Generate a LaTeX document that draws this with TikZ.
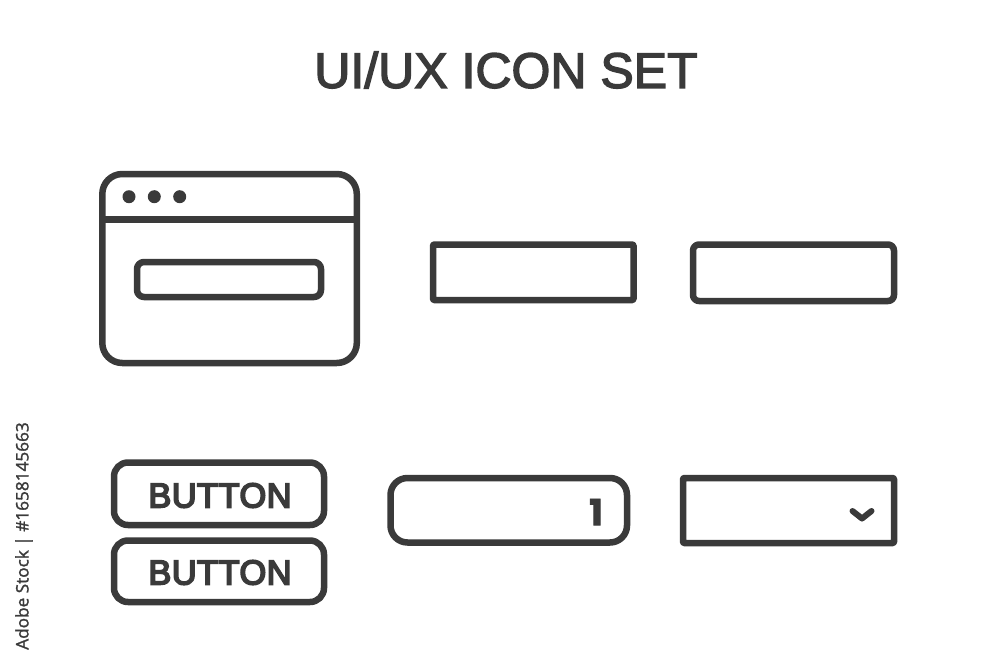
\documentclass[tikz,border=0pt]{standalone}
\usepackage{fontspec}
\setmainfont{Liberation Sans}
\newfontfamily\titlefont[FakeBold=2.8]{Liberation Sans}
\newfontfamily\btnfont[FakeBold=5,LetterSpace=1.2]{Liberation Sans}
\newfontfamily\sidefont[FakeBold=1.5]{Open Sans}
\newfontfamily\numfont[FakeBold=2]{Poppins}
\definecolor{ink}{HTML}{3A3A3A}
\tikzset{
  iconline/.style={draw=ink,line width=6.5pt,line join=round},
  dotmark/.style={fill=ink,draw=none},
  titletext/.style={text=ink,inner sep=0pt,font=\titlefont\fontsize{50}{50}\selectfont},
  btntext/.style={text=ink,inner sep=0pt,font=\btnfont\fontsize{34.5}{34.5}\selectfont},
  numtext/.style={text=ink,inner sep=0pt,font=\numfont\bfseries\fontsize{36}{36}\selectfont},
  sidetext/.style={text=ink,inner sep=0pt,rotate=90,font=\sidefont\fontsize{17.2}{17.2}\selectfont}
}
\begin{document}
\begin{tikzpicture}[x=1pt,y=-1pt]
\useasboundingbox (0,0) rectangle (1000,667);
\fill[white] (0,0) rectangle (1000,667);
\node[titletext] (title) at (506,70) {UI/UX ICON SET};
% window
\draw[iconline,rounded corners=20pt] (102.3,174) rectangle (356.8,363);
\draw[iconline] (102.3,219.5) -- (356.8,219.5);
\fill[dotmark] (129,196.7) circle (6.5pt) (154.3,196.7) circle (6.5pt) (179.7,196.7) circle (6.5pt);
\draw[iconline,rounded corners=7pt] (137,262) rectangle (321,297);
% top boxes
\draw[iconline,rounded corners=1pt] (433,244.5) rectangle (633.5,300);
\draw[iconline,rounded corners=6pt] (693,244.5) rectangle (894,301);
% buttons
\draw[iconline,rounded corners=14pt] (114,462.5) rectangle (324,525);
\node[btntext] (b1) at (220,495.5) {BUTTON};
\draw[iconline,rounded corners=14pt] (114,540.5) rectangle (324,602);
\node[btntext] (b2) at (220,572.5) {BUTTON};
% number input
\draw[iconline,rounded corners=17pt] (390.5,478) rectangle (627,542.5);
\node[numtext] (num) at (596,512) {1};
% dropdown
\draw[iconline,rounded corners=1pt] (683,478) rectangle (894,543);
\draw[draw=ink,line width=6pt,line cap=round,line join=round] (852.5,511) -- (862,518.5) -- (871.5,511);
% side label
\node[sidetext] (side) at (24,536) {Adobe Stock | \#1658145663};
\end{tikzpicture}
\end{document}
